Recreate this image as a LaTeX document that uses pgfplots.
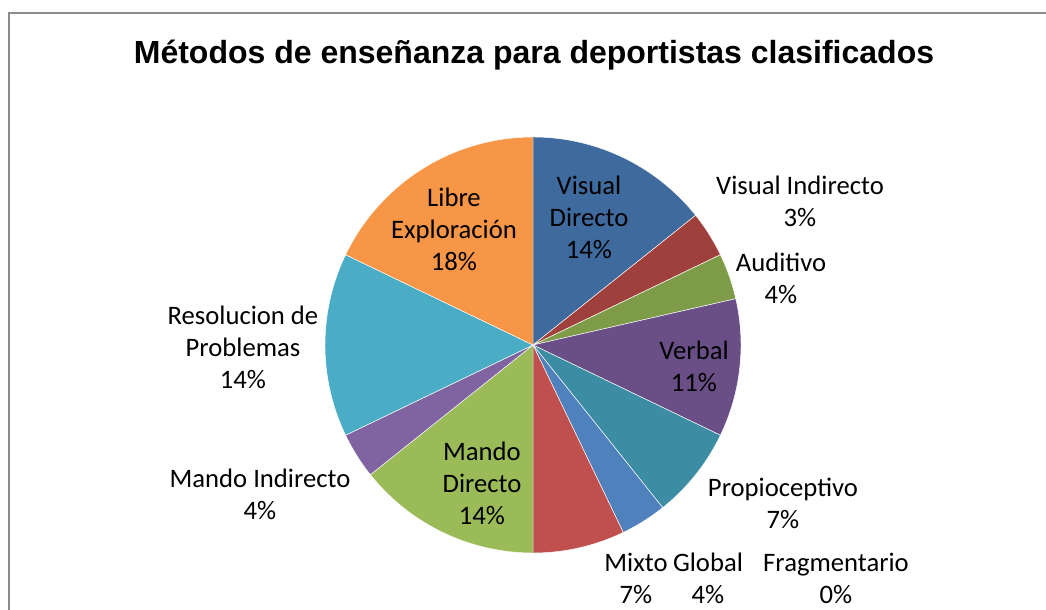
\documentclass[border=0pt]{standalone}
\usepackage{pgfplots}
\pgfplotsset{compat=1.18}
\usepackage{pgfplotstable}
\usepackage{fontspec}
\setmainfont{Carlito}
\newfontfamily\titlefont{Liberation Sans}
\definecolor{cVD}{HTML}{3E6A9E}
\definecolor{cVI}{HTML}{9F403D}
\definecolor{cAU}{HTML}{7E9B48}
\definecolor{cVE}{HTML}{6A4F87}
\definecolor{cPR}{HTML}{3C8CA3}
\definecolor{cFR}{HTML}{D07A32}
\definecolor{cGL}{HTML}{4F81BD}
\definecolor{cMX}{HTML}{C0504D}
\definecolor{cMD}{HTML}{9BBB59}
\definecolor{cMI}{HTML}{8064A2}
\definecolor{cRE}{HTML}{4BACC6}
\definecolor{cLE}{HTML}{F79646}
\definecolor{bordergray}{HTML}{8C8C8C}
% values (number of mentions), clockwise from 12 o'clock
\pgfplotstableread{
key value
cVD 4
cVI 1
cAU 1
cVE 3
cPR 2
cFR 0
cGL 1
cMX 2
cMD 4
cMI 1
cRE 4
cLE 5
}\piedata
\def\total{28}
\def\cumval{0}
\newcommand{\pieslice}[2]{%
  \pgfmathsetmacro\pa{\cumval*360/\total}%
  \pgfmathsetmacro\pb{(\cumval+#2)*360/\total}%
  \ifdim #2pt>0pt
    \edef\doslice{\noexpand\addplot[fill=#1, draw=white, line width=0.35pt, domain=\pa:\pb, samples=90] ({533+208*sin(x)},{265+208*cos(x)}) -- (axis cs:533,265) -- cycle;}%
    \doslice
  \fi
  \pgfmathsetmacro\newcum{\cumval+#2}\xdef\cumval{\newcum}%
}
\begin{document}
\begin{tikzpicture}
\path[use as bounding box] (0,0) rectangle (784.5pt,457.5pt);
\begin{axis}[
  at={(0,0)}, anchor=south west,
  scale only axis, width=784.5pt, height=457.5pt,
  xmin=0, xmax=1046, ymin=0, ymax=610,
  hide axis, clip=false,
]
\addplot[draw=bordergray, line width=1.1pt] coordinates {(9,0) (9,597) (1046,597)};
\pgfplotsinvokeforeach{0,...,11}{%
  \pgfplotstablegetelem{#1}{key}\of\piedata \let\thekey\pgfplotsretval
  \pgfplotstablegetelem{#1}{value}\of\piedata \let\theval\pgfplotsretval
  \pieslice{\thekey}{\theval}%
}
\node[font=\titlefont\bfseries\fontsize{24}{29}\selectfont, anchor=base] at (axis cs:534,546) {Métodos de enseñanza para deportistas clasificados};
\tikzset{lab/.style={font=\fontsize{20}{24}\selectfont, align=center, inner sep=0pt}}
\node[lab] at (axis cs:589,393) {Visual\\Directo\\14\%};
\node[lab] at (axis cs:800,409) {Visual Indirecto\\3\%};
\node[lab] at (axis cs:781,332) {Auditivo\\4\%};
\node[lab] at (axis cs:694,244) {Verbal\\11\%};
\node[lab] at (axis cs:783,107) {Propioceptivo\\7\%};
\node[lab] at (axis cs:636,32) {Mixto\\7\%};
\node[lab] at (axis cs:708,32) {Global\\4\%};
\node[lab] at (axis cs:836,32) {Fragmentario\\0\%};
\node[lab] at (axis cs:482,127) {Mando\\Directo\\14\%};
\node[lab] at (axis cs:260,116) {Mando Indirecto\\4\%};
\node[lab] at (axis cs:243,263) {Resolucion de\\Problemas\\14\%};
\node[lab] at (axis cs:454,381) {Libre\\Exploración\\18\%};
\end{axis}
\end{tikzpicture}
\end{document}
